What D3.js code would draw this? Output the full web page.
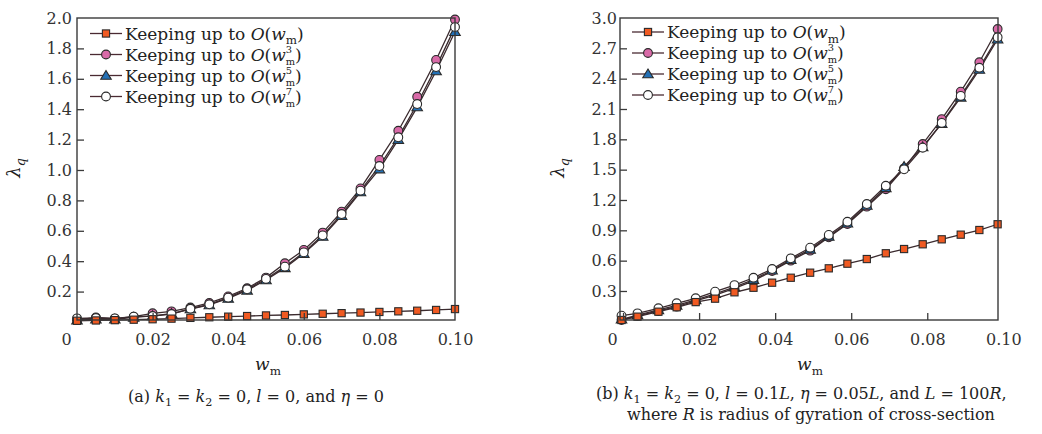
<!DOCTYPE html>
<html><head><meta charset="utf-8">
<script src="https://cdn.jsdelivr.net/npm/d3@7"></script>
<style>body{margin:0;background:#fff}svg{display:block}</style>
</head><body>
<svg id="chart" width="1042" height="434"></svg>
<script>
// ---------------- data ----------------
const xA = [0,0.005,0.01,0.015,0.02,0.025,0.03,0.035,0.04,0.045,0.05,0.055,0.06,0.065,0.07,0.075,0.08,0.085,0.09,0.095,0.1];
const aO1 = [0.008,0.010,0.012,0.015,0.018,0.022,0.027,0.031,0.035,0.039,0.043,0.046,0.050,0.054,0.058,0.062,0.066,0.070,0.074,0.079,0.085];
const aO3 = [0.012,0.030,0.022,0.035,0.057,0.070,0.095,0.125,0.168,0.222,0.292,0.386,0.474,0.588,0.726,0.879,1.066,1.258,1.482,1.724,1.990];
const aO5 = [0.012,0.018,0.018,0.030,0.040,0.055,0.085,0.112,0.155,0.208,0.276,0.356,0.450,0.562,0.700,0.855,1.006,1.200,1.414,1.651,1.910];
const aO7 = [0.024,0.026,0.024,0.035,0.039,0.052,0.087,0.116,0.160,0.215,0.283,0.364,0.458,0.570,0.710,0.864,1.026,1.215,1.434,1.677,1.940];

const xB = [-0.0004,0.0038,0.0093,0.0141,0.0191,0.0242,0.0293,0.0343,0.0392,0.0441,0.0492,0.0541,0.0590,0.0641,0.0691,0.0739,0.0788,0.0838,0.0888,0.0937,0.0985];
const bO1 = [0.013,0.046,0.095,0.139,0.190,0.224,0.287,0.332,0.382,0.431,0.481,0.524,0.570,0.616,0.673,0.715,0.762,0.811,0.857,0.903,0.960];
const bO3 = [0.013,0.053,0.102,0.145,0.201,0.260,0.326,0.399,0.498,0.600,0.699,0.831,0.962,1.134,1.306,1.513,1.754,2.000,2.271,2.562,2.891];
const bO5 = [0.020,0.062,0.112,0.158,0.212,0.272,0.338,0.412,0.505,0.610,0.712,0.840,0.970,1.145,1.320,1.530,1.725,1.955,2.215,2.490,2.790];
const bO7 = [0.056,0.079,0.129,0.178,0.228,0.293,0.358,0.431,0.517,0.623,0.728,0.854,0.985,1.160,1.341,1.503,1.717,1.962,2.229,2.508,2.809];

const xTicks = [0,0.02,0.04,0.06,0.08,0.10];
const xTickLabels = ["0","0.02","0.04","0.06","0.08","0.10"];
const yTicksA = [0.2,0.4,0.6,0.8,1.0,1.2,1.4,1.6,1.8,2.0];
const yTicksB = [0.3,0.6,0.9,1.2,1.5,1.8,2.1,2.4,2.7,3.0];
const legendSup = [null,"3","5","7"];
// -------------------------------------

const svg = d3.select("#chart");
const FONT = "DejaVu Serif";
const markerStyles = [
  {type:"square", fill:"#f05a22"},
  {type:"circle", fill:"#d96aa8"},
  {type:"triangle", fill:"#2370b5"},
  {type:"circle", fill:"#ffffff"}
];
const LINE = "#3a2a2e";

function measure(txt, size, italic){
  const t = svg.append("text").attr("font-family",FONT).attr("font-size",size)
    .attr("font-style", italic?"italic":"normal").text(txt);
  const w = t.node().getComputedTextLength(); t.remove(); return w;
}

// tokens: {t, i} text, {sub, sup, si} scripts
function richText(g, x, y, size, tokens, anchor){
  const text = g.append("text").attr("x",x).attr("y",y).attr("font-family",FONT)
    .attr("font-size",size).attr("fill","#222");
  let pendingDy = 0;
  tokens.forEach(tk=>{
    if (tk.t !== undefined){
      const ts = text.append("tspan").text(tk.t).attr("font-style", tk.i?"italic":"normal");
      if (pendingDy){ ts.attr("dy", pendingDy); pendingDy = 0; }
    } else {
      if (tk.sup){
        const ss = size*0.58;
        const supUp = -size*0.45, subDown = size*0.26;
        const w = measure(tk.sup, ss, false);
        text.append("tspan").text(tk.sup).attr("font-size",ss).attr("font-style","normal").attr("dy", pendingDy + supUp);
        text.append("tspan").text(tk.sub).attr("font-size",ss).attr("font-style","normal").attr("dx",-w).attr("dy", subDown - supUp);
        pendingDy = -subDown;
      } else {
        const ss = size*0.7, subDown = size*0.28;
        text.append("tspan").text(tk.sub).attr("font-size",ss).attr("font-style", tk.si?"italic":"normal").attr("dy", pendingDy + subDown);
        pendingDy = -subDown;
      }
    }
  });
  if (anchor) text.attr("text-anchor", anchor);
  return text;
}

function drawMarker(g, type, fill, cx, cy){
  if (type==="square"){
    g.append("rect").attr("x",cx-3.6).attr("y",cy-3.6).attr("width",7.2).attr("height",7.2)
      .attr("fill",fill).attr("stroke","#2a2a2a").attr("stroke-width",1.1);
  } else if (type==="circle"){
    g.append("circle").attr("cx",cx).attr("cy",cy).attr("r",4.4)
      .attr("fill",fill).attr("stroke","#2a2a2a").attr("stroke-width",1.1);
  } else {
    const s = 5;
    g.append("path").attr("d",`M${cx},${cy-s}L${cx+s*1.05},${cy+s*0.75}L${cx-s*1.05},${cy+s*0.75}Z`)
      .attr("fill",fill).attr("stroke","#2a2a2a").attr("stroke-width",1.1);
  }
}

function panel(cfg){
  const g = svg.append("g");
  const x = d3.scaleLinear().domain(cfg.xDomain).range([cfg.left,cfg.right]);
  const y = d3.scaleLinear().domain(cfg.yDomain).range([cfg.bottom,cfg.top]);

  const line = d3.line().x((d,i)=>x(cfg.xs[i])).y(d=>y(d));
  cfg.series.forEach(s=>{
    g.append("path").attr("d", line(s)).attr("fill","none").attr("stroke",LINE).attr("stroke-width",1.3);
  });
  [1,2,3,0].forEach(k=>{
    const ms = markerStyles[k];
    cfg.series[k].forEach((v,i)=> drawMarker(g, ms.type, ms.fill, x(cfg.xs[i]), y(v)));
  });

  // frame
  g.append("rect").attr("x",cfg.left).attr("y",cfg.top).attr("width",cfg.right-cfg.left)
    .attr("height",cfg.bottom-cfg.top).attr("fill","none").attr("stroke","#3a3a3a").attr("stroke-width",1.4);

  // x axis (inward ticks)
  const xAxis = d3.axisBottom(x).tickValues(xTicks).tickSize(-7).tickPadding(14)
    .tickFormat((d,i)=>xTickLabels[i]);
  const ga = g.append("g").attr("transform",`translate(0,${cfg.bottom})`).call(xAxis);
  ga.select(".domain").remove();
  ga.selectAll(".tick line").attr("stroke","#3a3a3a").attr("stroke-width",1.3)
    .attr("display",(d)=> (d<=cfg.xDomain[0]+1e-9 || d>=cfg.xDomain[1]-1e-9) ? "none" : null);
  ga.selectAll(".tick text").attr("font-family",FONT).attr("font-size",16).attr("fill","#333")
    .attr("dx",(d)=> d===0 ? -11 : 0);

  // y axis (inward ticks)
  const yAxis = d3.axisLeft(y).tickValues(cfg.yTicks).tickSize(-7).tickPadding(cfg.yPad)
    .tickFormat(d3.format(".1f"));
  const gy = g.append("g").attr("transform",`translate(${cfg.left},0)`).call(yAxis);
  gy.select(".domain").remove();
  gy.selectAll(".tick line").attr("stroke","#3a3a3a").attr("stroke-width",1.3)
    .attr("display",(d)=> d>=cfg.yDomain[1]-1e-9 ? "none":null);
  gy.selectAll(".tick text").attr("font-family",FONT).attr("font-size",16).attr("fill","#333");

  // axis titles
  richText(g, cfg.xTitleX, 370, 17, [{t:"w",i:1},{sub:"m"}], "middle");
  const yt = richText(g, 0, 0, 18, [{t:"λ",i:1},{sub:"q", si:1}], "middle");
  yt.attr("transform",`translate(${cfg.yTitleX},168) rotate(-90)`);

  // legend
  cfg.series.forEach((s,k)=>{
    const cy = cfg.legY + k*21;
    g.append("line").attr("x1",cfg.legX).attr("x2",cfg.legX+32).attr("y1",cy).attr("y2",cy)
      .attr("stroke","#4a2a32").attr("stroke-width",1.3);
    drawMarker(g, markerStyles[k].type, markerStyles[k].fill, cfg.legX+16, cy);
    const toks = [{t:"Keeping up to "},{t:"O",i:1},{t:"("},{t:"w",i:1},
      legendSup[k] ? {sub:"m", sup:legendSup[k]} : {sub:"m"}, {t:")"}];
    richText(g, cfg.legX+35, cy+6, 17, toks);
  });
  return g;
}

panel({xDomain:[0,0.1], yDomain:[0.013,2.0], left:77, right:455, top:18, bottom:320,
  xs:xA, series:[aO1,aO3,aO5,aO7], yTicks:yTicksA, yPad:5,
  xTitleX:268, yTitleX:20, legX:90, legY:33.5});
panel({xDomain:[-0.0008,0.0986], yDomain:[0.013,3.0], left:620, right:998, top:18, bottom:320,
  xs:xB, series:[bO1,bO3,bO5,bO7], yTicks:yTicksB, yPad:3,
  xTitleX:810, yTitleX:564, legX:632, legY:32});

// captions
const cap = svg.append("g");
richText(cap, 256, 402, 16, [{t:"(a) "},{t:"k",i:1},{sub:"1"},{t:" = "},{t:"k",i:1},{sub:"2"},
  {t:" = 0, "},{t:"l",i:1},{t:" = 0, and  "},{t:"η",i:1},{t:" = 0"}], "middle");
richText(cap, 596, 399, 16, [{t:"(b) "},{t:"k",i:1},{sub:"1"},{t:" = "},{t:"k",i:1},{sub:"2"},
  {t:" = 0, "},{t:"l",i:1},{t:" = 0.1"},{t:"L",i:1},{t:", "},{t:"η",i:1},{t:" = 0.05"},{t:"L",i:1},
  {t:", and "},{t:"L",i:1},{t:" = 100"},{t:"R",i:1},{t:","}]);
richText(cap, 627, 420, 16, [{t:"where "},{t:"R",i:1},{t:" is radius of gyration of cross-section"}]);
</script>
</body></html>
